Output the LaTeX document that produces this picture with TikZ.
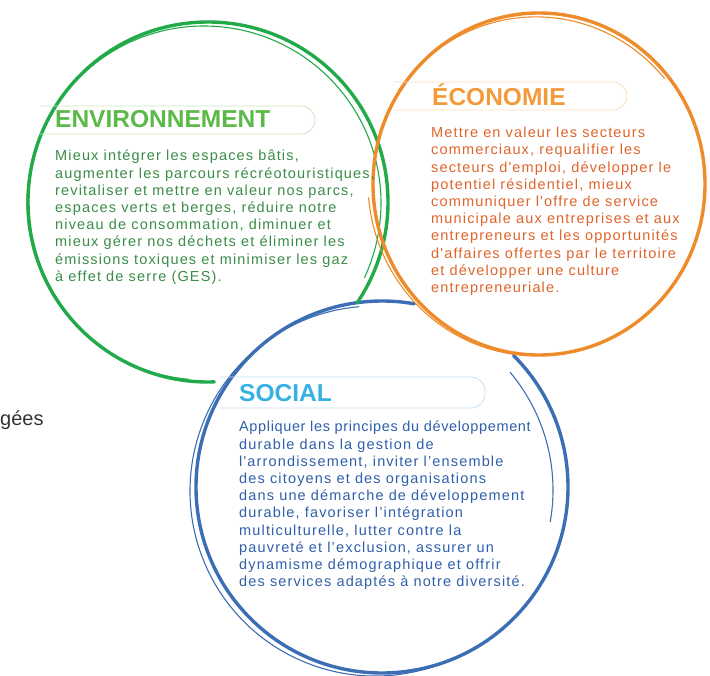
\documentclass[tikz,border=0pt]{standalone}
\usepackage{fontspec}
\setmainfont{Liberation Sans}
\newfontfamily\bodyfont[LetterSpace=8]{Liberation Sans}
\usepackage{tikz}

\definecolor{envRing}{HTML}{22AA4A}
\definecolor{envTitleCol}{HTML}{5BB947}
\definecolor{envTextCol}{HTML}{3A8C46}
\definecolor{envPill}{HTML}{C9E8C1}
\definecolor{ecoRing}{HTML}{EE8B2B}
\definecolor{ecoTitleCol}{HTML}{F39B3A}
\definecolor{ecoTextCol}{HTML}{DF642B}
\definecolor{ecoPill}{HTML}{F8DCC0}
\definecolor{socRing}{HTML}{3C6EB4}
\definecolor{socTitleCol}{HTML}{38B0E3}
\definecolor{socTextCol}{HTML}{2F5FAA}
\definecolor{socPill}{HTML}{C4E4F4}

\begin{document}
\begin{tikzpicture}[x=1pt, y=-1pt,
        ring/.style={line width=3.4pt, line cap=round},
        thinRing/.style={line width=1.1pt, line cap=round},
        pill/.style={line width=0.8pt, rounded corners=14pt},
        title/.style={inner sep=0pt, anchor=base west, font=\fontsize{24.5}{28}\selectfont\bfseries},
        body/.style={inner sep=0pt, anchor=north west, align=left, font=\bodyfont\fontsize{14.5}{17.2}\selectfont}]
        \useasboundingbox (0,0) rectangle (710,676);

        % --- Draw social circle ---
        \coordinate (socCenter) at (382,487);
        \coordinate (socCenterB) at (375,491);
        \coordinate (socCenterC) at (370,490);
        \draw[ring, socRing] (socCenter) ++(-45:186) arc[start angle=-45, end angle=280, radius=186];
        \draw[thinRing, socRing] (socCenterB) ++(70:185) arc[start angle=70, end angle=265, radius=185];
        \draw[thinRing, socRing] (socCenterC) ++(-40:183) arc[start angle=-40, end angle=10, radius=183];
        % ---

        % --- Draw environment circle ---
        \coordinate (envCenter) at (208,202);
        \coordinate (envCenterB) at (204,203);
        \draw[ring, envRing] (envCenter) ++(88:180) arc[start angle=88, end angle=394, radius=180];
        \draw[thinRing, envRing] (envCenterB) ++(95:177) arc[start angle=95, end angle=385, radius=177];
        % ---

        % --- Draw economy circle ---
        \coordinate (ecoCenter) at (539,184);
        \coordinate (ecoCenterB) at (536,187);
        \draw[ring, ecoRing] (ecoCenter) ellipse[x radius=166, y radius=171];
        \draw[thinRing, ecoRing] (ecoCenterB) ++(215:168) arc[start angle=215, end angle=320, x radius=168, y radius=173];
        \draw[thinRing, ecoRing] (ecoCenterB) ++(60:168) arc[start angle=60, end angle=175, x radius=168, y radius=173];
        % ---

        % --- Draw title bars ---
        \draw[pill, envPill] (40,106) -- (315,106) -- (315,134) -- (40,134);
        \draw[pill, ecoPill] (393,82) -- (627,82) -- (627,110) -- (393,110);
        \draw[pill, socPill] (220,377) -- (485,377) -- (485,408) -- (220,408);
        % ---

        % --- Titles and texts ---
        \node[title, envTitleCol] (envTitle) at (55,128) {ENVIRONNEMENT};
        \node[body, envTextCol] (envText) at (55,150) {Mieux intégrer les espaces bâtis,\\
            augmenter les parcours récréotouristiques,\\
            revitaliser et mettre en valeur nos parcs,\\
            espaces verts et berges, réduire notre\\
            niveau de consommation, diminuer et\\
            mieux gérer nos déchets et éliminer les\\
            émissions toxiques et minimiser les gaz\\
            à effet de serre (GES).};

        \node[title, ecoTitleCol] (ecoTitle) at (432,106) {ÉCONOMIE};
        \node[body, ecoTextCol] (ecoText) at (431,127) {Mettre en valeur les secteurs\\
            commerciaux, requalifier les\\
            secteurs d'emploi, développer le\\
            potentiel résidentiel, mieux\\
            communiquer l'offre de service\\
            municipale aux entreprises et aux\\
            entrepreneurs et les opportunités\\
            d'affaires offertes par le territoire\\
            et développer une culture\\
            entrepreneuriale.};

        \node[title, socTitleCol] (socTitle) at (239,402) {SOCIAL};
        \node[body, socTextCol] (socText) at (239,421) {{\addfontfeature{LetterSpace=4.4}Appliquer les principes du développement}\\
            durable dans la gestion de\\
            l'arrondissement, inviter l’ensemble\\
            des citoyens et des organisations\\
            dans une démarche de développement\\
            durable, favoriser l’intégration\\
            multiculturelle, lutter contre la\\
            pauvreté et l’exclusion, assurer un\\
            dynamisme démographique et offrir\\
            des services adaptés à notre diversité.};

        \node[inner sep=0pt, anchor=base west, font=\fontsize{20}{24}\selectfont, black!80] (cutText) at (0,425) {gées};
        % ---
    \end{tikzpicture}
\end{document}
